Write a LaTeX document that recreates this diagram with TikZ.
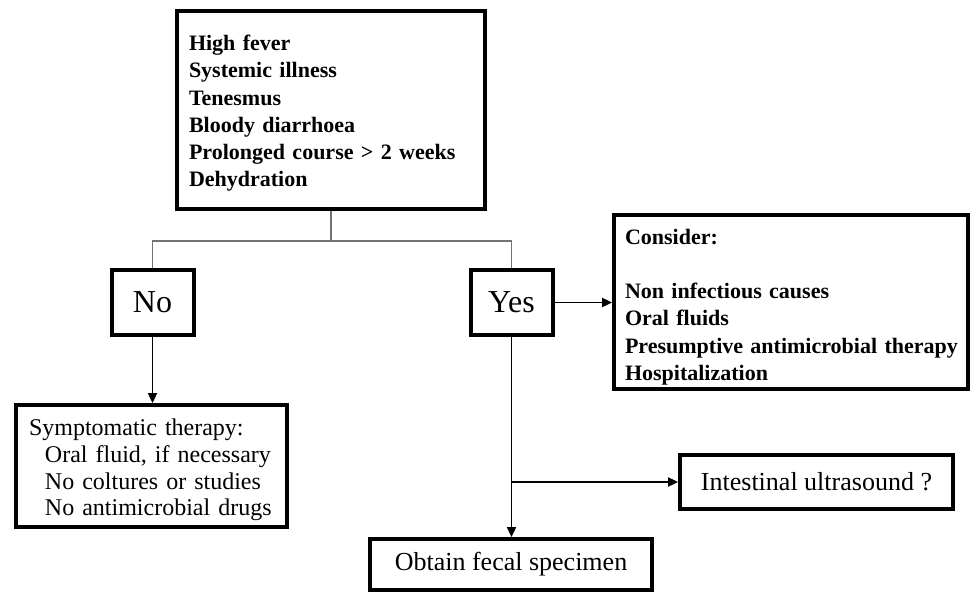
\documentclass[tikz,border=0pt]{standalone}
\usepackage{fontspec}
\setmainfont{Liberation Serif}
\usetikzlibrary{arrows.meta}
\newcommand{\lift}[1]{\rule{0pt}{#1}}
\begin{document}
\begin{tikzpicture}[x=0.75pt,y=-0.75pt,
  box/.style={draw=black, line width=3pt, rectangle, fill=white},
  listbold/.style={font=\fontsize{16.5}{20.4}\selectfont\bfseries, align=left},
  answer/.style={font=\fontsize{24}{28}\selectfont},
  single/.style={font=\fontsize{19.5}{23}\selectfont},
  conn/.style={draw=black!55, line width=1pt},
  arr/.style={draw=black, line width=0.8pt, -{Triangle[length=7.5pt,width=7pt]}}]
\useasboundingbox (0,0) rectangle (972,594);
\fill[white] (0,0) rectangle (972,594);

\node[box, listbold, minimum width=231pt, minimum height=148.5pt, inner xsep=9pt, text width=213pt] (top) at (331,110)
  {\lift{16.5pt}High fever\\Systemic illness\\Tenesmus\\Bloody diarrhoea\\Prolonged course > 2 weeks\\Dehydration};

\node[box, answer, minimum width=61.5pt, minimum height=48.75pt, inner sep=0pt] (no) at (152.5,302.5) {No};
\node[box, answer, minimum width=61.5pt, minimum height=48.75pt, inner sep=0pt] (yes) at (511.5,302.5) {Yes};

\node[box, listbold, minimum width=265.5pt, minimum height=130.5pt, inner xsep=8.25pt, text width=249pt] (consider) at (791,302)
  {\lift{19pt}\mbox{Consider:}\\ ~\\ \mbox{Non infectious causes}\\ \mbox{Oral fluids}\\ \mbox{Presumptive antimicrobial therapy}\\ \mbox{Hospitalization}};

\node[box, font=\fontsize{18}{19.9}\selectfont, align=left, minimum width=203.25pt, minimum height=91.5pt, inner xsep=9.75pt, text width=183.75pt] (symp) at (151.5,466)
  {\lift{18.5pt}\mbox{Symptomatic therapy:}\\ \hspace*{12pt}\mbox{Oral fluid, if necessary}\\ \hspace*{12pt}\mbox{No coltures or studies}\\ \hspace*{12pt}\mbox{No antimicrobial drugs}};

\node[box, single, minimum width=204.75pt, minimum height=40.5pt, inner sep=0pt] (intestinal) at (816.5,482) {Intestinal ultrasound ?};
\node[box, single, minimum width=211.5pt, minimum height=38.25pt, inner sep=0pt] (obtain) at (511,564.5) {Obtain fecal specimen};

\coordinate (split) at (331,241);
\draw[conn] (top.south) -- (split);
\draw[conn] (no.north) -- (no.north |- split) -- (yes.north |- split) -- (yes.north);

\draw[arr] (no.south) -- (no.south |- symp.north);
\draw[arr] (yes.east) -- (yes.east -| consider.west);
\draw[arr] (yes.south) -- (yes.south |- obtain.north);
\coordinate (branch) at (yes.south |- intestinal.west);
\draw[arr] (branch) -- (intestinal.west);
\end{tikzpicture}
\end{document}
